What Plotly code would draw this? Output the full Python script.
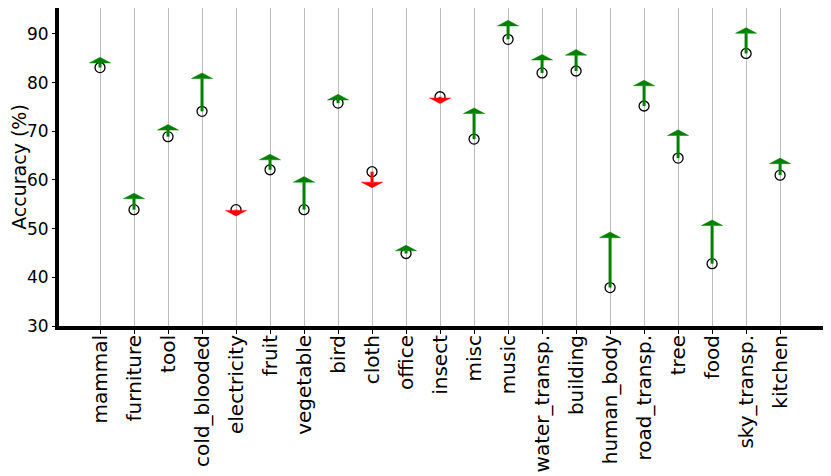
import plotly.graph_objects as go

categories = ["mammal", "furniture", "tool", "cold_blooded", "electricity", "fruit",
              "vegetable", "bird", "cloth", "office", "insect", "misc", "music",
              "water_transp.", "building", "human_body", "road_transp.", "tree",
              "food", "sky_transp.", "kitchen"]
# accuracy before (circles) and after (arrow tips)
acc_before = [83.1, 53.9, 68.9, 74.1, 53.9, 62.1, 53.9, 75.8, 61.7, 44.9, 77.1,
              68.4, 88.9, 82.0, 82.4, 37.9, 75.2, 64.5, 42.8, 86.0, 61.0]
acc_after = [85.2, 57.3, 71.4, 82.0, 52.6, 65.3, 60.7, 77.6, 58.4, 46.6, 75.7,
             74.8, 92.8, 85.8, 86.8, 49.3, 80.5, 70.3, 51.8, 91.3, 64.5]

GREEN = "#008000"
RED = "#ff0000"
HEAD_W = 0.31   # half width of arrow head (category units)
HEAD_L = 1.15   # head length (accuracy units)

xs = list(range(len(categories)))

fig = go.Figure()

# open circles for the baseline accuracy
fig.add_trace(go.Scatter(
    x=xs, y=acc_before, mode="markers",
    marker=dict(symbol="circle-open", size=10, color="black", line=dict(width=1.3)),
    hoverinfo="skip", showlegend=False))

for color, up in [(GREEN, True), (RED, False)]:
    sx, sy, hx, hy = [], [], [], []
    for i, (b, a) in enumerate(zip(acc_before, acc_after)):
        if (a >= b) != up:
            continue
        base = a - HEAD_L if up else a + HEAD_L
        sx += [i, i, None]
        sy += [b, base, None]
        hx += [i - HEAD_W, i + HEAD_W, i, i - HEAD_W, None]
        hy += [base, base, a, base, None]
    fig.add_trace(go.Scatter(x=sx, y=sy, mode="lines", line=dict(color=color, width=3),
                             hoverinfo="skip", showlegend=False))
    fig.add_trace(go.Scatter(x=hx, y=hy, mode="lines", fill="toself", fillcolor=color,
                             line=dict(color=color, width=0.5),
                             hoverinfo="skip", showlegend=False))

# page has an 8px body margin, so the figure is sized/shifted to compensate
fig.update_layout(
    width=823, height=468,
    margin=dict(l=51, r=5, t=0, b=150, autoexpand=False),
    plot_bgcolor="white", paper_bgcolor="white",
    font=dict(family="DejaVu Sans", color="black"),
)
fig.update_xaxes(
    range=[-1.206, 21.35],
    tickmode="array", tickvals=xs, ticktext=categories,
    tickangle=-90, tickfont=dict(size=20), ticklabelstandoff=-7,
    showgrid=True, gridcolor="#bcbcbc", gridwidth=1,
    showline=True, linecolor="black", linewidth=4,
    ticks="outside", ticklen=4, tickcolor="black", zeroline=False,
)
fig.update_yaxes(
    range=[30, 95.34], tickvals=[30, 40, 50, 60, 70, 80, 90],
    tickfont=dict(size=17), showgrid=False,
    ticks="outside", ticklen=3, tickcolor="black", ticklabelstandoff=0,
    showline=True, linecolor="black", linewidth=4, zeroline=False,
    title=dict(text="Accuracy (%)", font=dict(size=19), standoff=5),
)

fig.write_html("out.html")
